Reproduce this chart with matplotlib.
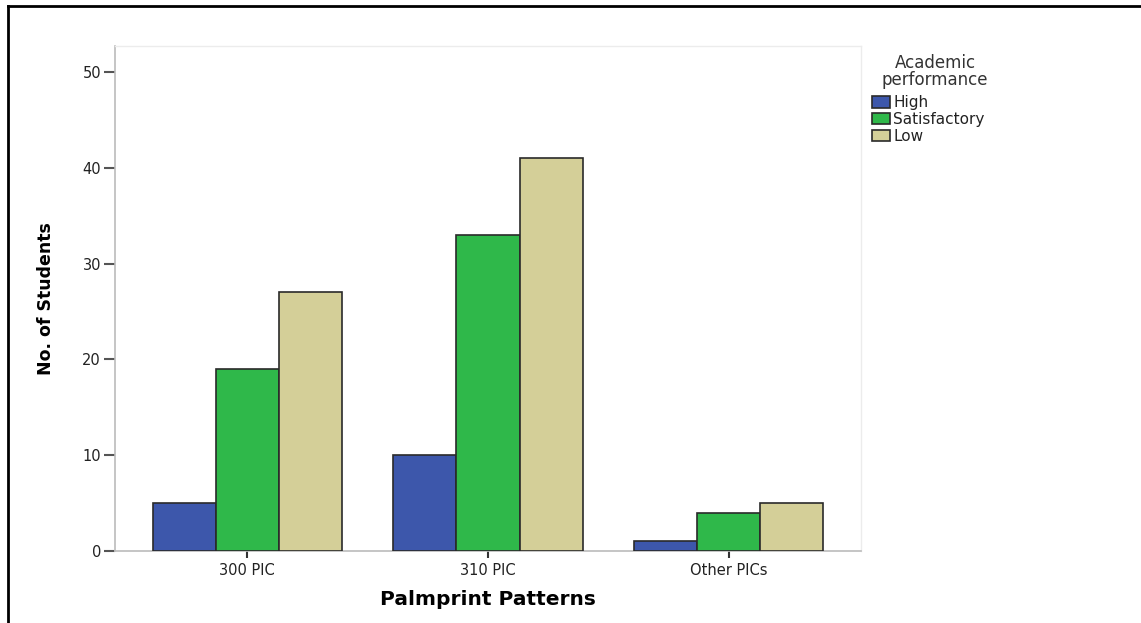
import numpy as np
import matplotlib
matplotlib.use("Agg")
import matplotlib.pyplot as plt
from matplotlib.lines import Line2D

categories = ["300 PIC", "310 PIC", "Other PICs"]
high = [5, 10, 1]
satisfactory = [19, 33, 4]
low = [27, 41, 5]
series_names = ["High", "Satisfactory", "Low"]
colors = ["#3d57ab", "#2fb84a", "#d4cf98"]
yticks = [0, 10, 20, 30, 40, 50]

plt.rcParams['font.family'] = ['DejaVu Sans']

fig = plt.figure(figsize=(11.41, 6.23), dpi=100)
ax = fig.add_axes([0.1008, 0.1156, 0.6538, 0.8106])

x = np.arange(len(categories))
w = 0.262
for i, (vals, name, c) in enumerate(zip([high, satisfactory, low], series_names, colors)):
    ax.bar(x + (i - 1) * w, vals, width=w, color=c, edgecolor="#2a2a2a",
           linewidth=1.2, label=name, zorder=3)

ax.set_xlim(-0.55, 2.55)
ax.set_ylim(0, 52.7)
ax.set_yticks(yticks)
ax.set_xticks(x)
ax.set_xticklabels(categories, fontsize=10.5, color="#222222")
ax.set_yticklabels([str(t) for t in yticks], fontsize=10.5, color="#222222")
ax.tick_params(axis="y", direction="out", length=8, width=1.5, color="#555555", pad=2)
ax.tick_params(axis="x", direction="out", length=5, width=1.5, color="#333333", pad=4)

for s in ["top", "right"]:
    ax.spines[s].set_color("#ececec")
    ax.spines[s].set_linewidth(1)
for s in ["left", "bottom"]:
    ax.spines[s].set_color("#bbbbbb")
    ax.spines[s].set_linewidth(1.2)

ax.set_xlabel("Palmprint Patterns", fontsize=14.5, fontweight="bold", labelpad=8)
ax.set_ylabel("No. of Students", fontsize=12.5, fontweight="bold",
              family=["Liberation Sans Narrow", "DejaVu Sans"], labelpad=20)

# legend title as separate text so it can be centred like the original
fig.text(935 / 1141, 1 - 71.5 / 623, "Academic\nperformance", ha="center", va="center",
         fontsize=12, color="#333333", linespacing=0.95)
leg = ax.legend(loc="upper left", bbox_to_anchor=(872 / 1141, 1 - 95 / 623),
                bbox_transform=fig.transFigure, frameon=False, fontsize=11,
                handlelength=1.2, handleheight=0.8, handletextpad=0.2,
                labelspacing=0.12, borderaxespad=0, borderpad=0)
for t in leg.get_texts():
    t.set_color("#222222")

# outer border (top and left only)
fig.add_artist(Line2D([8 / 1141, 8 / 1141], [0, 1 - 6 / 623], transform=fig.transFigure,
                      color="black", linewidth=2))
fig.add_artist(Line2D([8 / 1141, 1], [1 - 6 / 623, 1 - 6 / 623], transform=fig.transFigure,
                      color="black", linewidth=2))

fig.savefig("out.png", dpi=100)
